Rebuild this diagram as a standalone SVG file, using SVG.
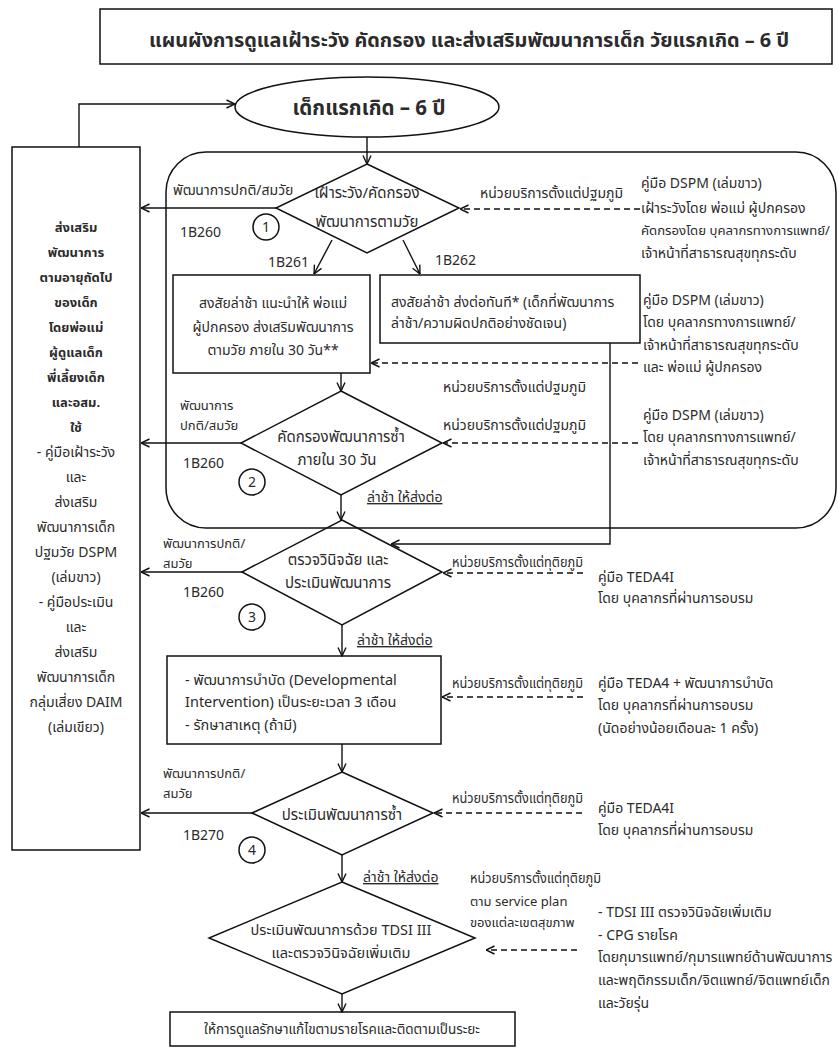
<svg xmlns="http://www.w3.org/2000/svg" width="838" height="1051" viewBox="0 0 838 1051">
  <style>
    .ln{stroke:#111;stroke-width:1.4;fill:none}
    .dash{stroke:#111;stroke-width:1.3;stroke-dasharray:6 4;fill:none}
    .shape{fill:none;stroke:#111;stroke-width:1.5}
    .t{font-family:'Noto Sans Thai','Noto Sans','DejaVu Sans',sans-serif;font-size:14px;fill:#2b2b2b}
    .d{font-size:15px}
    .s{font-size:13px}
    .c{text-anchor:middle}
    .b{font-weight:bold}
    .u{text-decoration:underline}
  </style>
  <defs>
    <marker id="ah" viewBox="0 0 10 10" refX="9.5" refY="5" markerWidth="10" markerHeight="10" orient="auto" markerUnits="userSpaceOnUse">
      <path d="M1,1 L9.5,5 L1,9" fill="none" stroke="#111" stroke-width="1.4"/>
    </marker>
  </defs>
  <rect width="838" height="1051" fill="#fff"/>

  <!-- heading -->
  <g id="title">
    <rect x="100" y="9" width="732" height="55" class="shape" stroke-width="2"/>
    <text x="469" y="47" class="t c b" style="font-size:19.5px" textLength="640" lengthAdjust="spacingAndGlyphs">แผนผังการดูแลเฝ้าระวัง คัดกรอง และส่งเสริมพัฒนาการเด็ก วัยแรกเกิด – 6 ปี</text>
  </g>

  <!-- screening frame around steps 1-2 -->
  <g id="frame">
    <rect x="166" y="152" width="670" height="376" rx="40" ry="40" class="shape"/>
  </g>

  <g id="start">
    <ellipse cx="367" cy="107" rx="132" ry="30" class="shape"/>
    <text x="369" y="115" class="t c b" style="font-size:20.5px">เด็กแรกเกิด – 6 ปี</text>
  </g>

  <g id="promote">
    <rect x="12" y="147" width="128" height="703" class="shape"/>
    <g class="t c b" style="font-size:13px">
      <text x="76" y="232">ส่งเสริม</text>
      <text x="76" y="257">พัฒนาการ</text>
      <text x="76" y="282">ตามอายุถัดไป</text>
      <text x="76" y="307">ของเด็ก</text>
      <text x="76" y="332">โดยพ่อแม่</text>
      <text x="76" y="357">ผู้ดูแลเด็ก</text>
      <text x="76" y="382">พี่เลี้ยงเด็ก</text>
      <text x="76" y="407">และอสม.</text>
      <text x="76" y="432">ใช้</text>
    </g>
    <g class="t c">
      <text x="76" y="457">- คู่มือเฝ้าระวัง</text>
      <text x="76" y="482">และ</text>
      <text x="76" y="507">ส่งเสริม</text>
      <text x="76" y="532">พัฒนาการเด็ก</text>
      <text x="76" y="557">ปฐมวัย DSPM</text>
      <text x="76" y="582">(เล่มขาว)</text>
      <text x="76" y="607">- คู่มือประเมิน</text>
      <text x="76" y="632">และ</text>
      <text x="76" y="657">ส่งเสริม</text>
      <text x="76" y="682">พัฒนาการเด็ก</text>
      <text x="76" y="707">กลุ่มเสี่ยง DAIM</text>
      <text x="76" y="732">(เล่มเขียว)</text>
    </g>
  </g>

  <!-- step 1 -->
  <g id="screen1">
    <polygon points="367,164 459,208 367,253 276,208" class="shape"/>
    <text x="367" y="198" class="t d c">เฝ้าระวัง/คัดกรอง</text>
    <text x="367" y="227" class="t d c">พัฒนาการตามวัย</text>
    <circle cx="266" cy="227" r="13" class="shape" stroke-width="1.2"/>
    <text x="266" y="232" class="t c">1</text>
    <text x="173" y="195" class="t">พัฒนาการปกติ/สมวัย</text>
    <text x="180" y="237" class="t">1B260</text>
    <text x="268" y="267" class="t">1B261</text>
    <text x="435" y="265" class="t">1B262</text>
  </g>

  <g id="suspectA">
    <rect x="173" y="275" width="197" height="98" class="shape"/>
    <text x="273" y="308" class="t c">สงสัยล่าช้า แนะนำให้ พ่อแม่</text>
    <text x="273" y="332" class="t c">ผู้ปกครอง ส่งเสริมพัฒนาการ</text>
    <text x="273" y="355" class="t c">ตามวัย ภายใน 30 วัน**</text>
  </g>

  <g id="suspectB">
    <rect x="380" y="275" width="260" height="68" class="shape"/>
    <text x="391" y="307" class="t">สงสัยล่าช้า ส่งต่อทันที* (เด็กที่พัฒนาการ</text>
    <text x="391" y="328" class="t">ล่าช้า/ความผิดปกติอย่างชัดเจน)</text>
  </g>

  <!-- step 2 -->
  <g id="screen2">
    <polygon points="341,391 442,443 341,495 241,443" class="shape"/>
    <text x="341" y="442" class="t d c">คัดกรองพัฒนาการซ้ำ</text>
    <text x="337" y="465" class="t d c">ภายใน 30 วัน</text>
    <circle cx="252" cy="482" r="13" class="shape" stroke-width="1.2"/>
    <text x="252" y="487" class="t c">2</text>
    <text x="180" y="410" class="t s">พัฒนาการ</text>
    <text x="180" y="430" class="t s">ปกติ/สมวัย</text>
    <text x="183" y="468" class="t">1B260</text>
    <text x="367" y="502" class="t u">ล่าช้า ให้ส่งต่อ</text>
  </g>

  <!-- step 3 -->
  <g id="diagnose">
    <polygon points="342,520 442,572 342,625 242,572" class="shape"/>
    <text x="338" y="565" class="t d c">ตรวจวินิจฉัย และ</text>
    <text x="338" y="588" class="t d c">ประเมินพัฒนาการ</text>
    <circle cx="252" cy="617" r="13" class="shape" stroke-width="1.2"/>
    <text x="252" y="622" class="t c">3</text>
    <text x="163" y="548" class="t s">พัฒนาการปกติ/</text>
    <text x="163" y="568" class="t s">สมวัย</text>
    <text x="183" y="597" class="t">1B260</text>
    <text x="357" y="645" class="t u">ล่าช้า ให้ส่งต่อ</text>
  </g>

  <g id="intervention">
    <rect x="167" y="656" width="274" height="88" class="shape"/>
    <text x="185" y="685" class="t" style="font-size:14.5px">- พัฒนาการบำบัด (Developmental</text>
    <text x="185" y="707" class="t" style="font-size:14.5px">Intervention) เป็นระยะเวลา 3 เดือน</text>
    <text x="185" y="730" class="t" style="font-size:14.5px">- รักษาสาเหตุ (ถ้ามี)</text>
  </g>

  <!-- step 4 -->
  <g id="reassess">
    <polygon points="342,772 433,813 342,855 252,813" class="shape"/>
    <text x="342" y="820" class="t d c">ประเมินพัฒนาการซ้ำ</text>
    <circle cx="252" cy="850" r="13" class="shape" stroke-width="1.2"/>
    <text x="252" y="855" class="t c">4</text>
    <text x="163" y="778" class="t s">พัฒนาการปกติ/</text>
    <text x="163" y="798" class="t s">สมวัย</text>
    <text x="183" y="840" class="t">1B270</text>
    <text x="363" y="882" class="t u">ล่าช้า ให้ส่งต่อ</text>
  </g>

  <g id="tdsi">
    <polygon points="342,882 475,938 342,994 209,938" class="shape"/>
    <text x="341" y="935" class="t c" style="font-size:14.5px">ประเมินพัฒนาการด้วย TDSI III</text>
    <text x="341" y="958" class="t c" style="font-size:14.5px">และตรวจวินิจฉัยเพิ่มเติม</text>
  </g>

  <g id="treat">
    <rect x="170" y="1012" width="345" height="34" class="shape"/>
    <text x="342" y="1034" class="t c" style="font-size:13.5px">ให้การดูแลรักษาแก้ไขตามรายโรคและติดตามเป็นระยะ</text>
  </g>

  <!-- service levels and manuals -->
  <g id="notes" class="t">
    <text x="480" y="198">หน่วยบริการตั้งแต่ปฐมภูมิ</text>
    <text x="641" y="188">คู่มือ DSPM (เล่มขาว)</text>
    <text x="641" y="213">เฝ้าระวังโดย พ่อแม่ ผู้ปกครอง</text>
    <text x="641" y="235" class="s" textLength="189" lengthAdjust="spacingAndGlyphs">คัดกรองโดย บุคลากรทางการแพทย์/</text>
    <text x="641" y="258">เจ้าหน้าที่สาธารณสุขทุกระดับ</text>

    <text x="643" y="305">คู่มือ DSPM (เล่มขาว)</text>
    <text x="643" y="327">โดย บุคลากรทางการแพทย์/</text>
    <text x="643" y="350">เจ้าหน้าที่สาธารณสุขทุกระดับ</text>
    <text x="643" y="372">และ พ่อแม่ ผู้ปกครอง</text>
    <text x="443" y="392">หน่วยบริการตั้งแต่ปฐมภูมิ</text>

    <text x="443" y="430">หน่วยบริการตั้งแต่ปฐมภูมิ</text>
    <text x="643" y="420">คู่มือ DSPM (เล่มขาว)</text>
    <text x="643" y="442">โดย บุคลากรทางการแพทย์/</text>
    <text x="643" y="465">เจ้าหน้าที่สาธารณสุขทุกระดับ</text>

    <text x="452" y="567" textLength="131" lengthAdjust="spacingAndGlyphs">หน่วยบริการตั้งแต่ทุติยภูมิ</text>
    <text x="598" y="582">คู่มือ TEDA4I</text>
    <text x="598" y="603">โดย บุคลากรที่ผ่านการอบรม</text>

    <text x="452" y="688" textLength="131" lengthAdjust="spacingAndGlyphs">หน่วยบริการตั้งแต่ทุติยภูมิ</text>
    <text x="598" y="688">คู่มือ TEDA4 + พัฒนาการบำบัด</text>
    <text x="598" y="710">โดย บุคลากรที่ผ่านการอบรม</text>
    <text x="598" y="733">(นัดอย่างน้อยเดือนละ 1 ครั้ง)</text>

    <text x="452" y="803" textLength="131" lengthAdjust="spacingAndGlyphs">หน่วยบริการตั้งแต่ทุติยภูมิ</text>
    <text x="598" y="813">คู่มือ TEDA4I</text>
    <text x="598" y="835">โดย บุคลากรที่ผ่านการอบรม</text>

    <text x="470" y="883" textLength="131" lengthAdjust="spacingAndGlyphs">หน่วยบริการตั้งแต่ทุติยภูมิ</text>
    <text x="470" y="906" class="s">ตาม service plan</text>
    <text x="470" y="927" class="s">ของแต่ละเขตสุขภาพ</text>
    <text x="598" y="917">- TDSI III ตรวจวินิจฉัยเพิ่มเติม</text>
    <text x="598" y="940">- CPG รายโรค</text>
    <text x="598" y="962">โดยกุมารแพทย์/กุมารแพทย์ด้านพัฒนาการ</text>
    <text x="598" y="985">และพฤติกรรมเด็ก/จิตแพทย์/จิตแพทย์เด็ก</text>
    <text x="598" y="1008">และวัยรุ่น</text>
  </g>

  <g id="connectors">
    <path d="M79,147 V104 H235" class="ln" marker-end="url(#ah)"/>
    <path d="M367,137 V164" class="ln" marker-end="url(#ah)"/>
    <path d="M276,208 H141" class="ln" marker-end="url(#ah)"/>
    <path d="M332,240 L314,274" class="ln" marker-end="url(#ah)"/>
    <path d="M403,240 L420,274" class="ln" marker-end="url(#ah)"/>
    <path d="M341,373 V391" class="ln" marker-end="url(#ah)"/>
    <path d="M241,443 H141" class="ln" marker-end="url(#ah)"/>
    <path d="M341,495 V520" class="ln" marker-end="url(#ah)"/>
    <path d="M610,343 V544 H391" class="ln" marker-end="url(#ah)"/>
    <path d="M242,572 H141" class="ln" marker-end="url(#ah)"/>
    <path d="M342,625 V656" class="ln" marker-end="url(#ah)"/>
    <path d="M342,744 V772" class="ln" marker-end="url(#ah)"/>
    <path d="M252,813 H141" class="ln" marker-end="url(#ah)"/>
    <path d="M342,855 V882" class="ln" marker-end="url(#ah)"/>
    <path d="M342,994 V1012" class="ln" marker-end="url(#ah)"/>

    <path d="M640,209 H460" class="dash" marker-end="url(#ah)"/>
    <path d="M638,363 H371" class="dash" marker-end="url(#ah)"/>
    <path d="M638,443 H443" class="dash" marker-end="url(#ah)"/>
    <path d="M583,573 H443" class="dash" marker-end="url(#ah)"/>
    <path d="M583,697 H442" class="dash" marker-end="url(#ah)"/>
    <path d="M582,813 H434" class="dash" marker-end="url(#ah)"/>
    <path d="M577,950 H486" class="dash" marker-end="url(#ah)"/>
  </g>
</svg>
